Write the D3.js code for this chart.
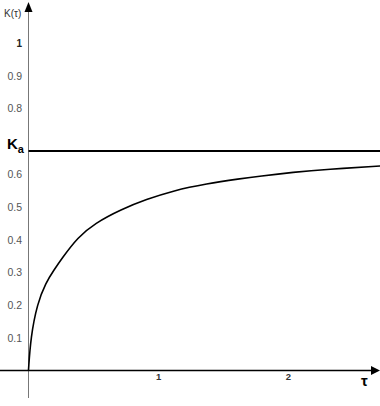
<!DOCTYPE html>
<html><head><meta charset="utf-8">
<script src="https://cdn.jsdelivr.net/npm/d3@7"></script>
<style>body{margin:0;background:#fff}svg{display:block}</style>
</head><body>
<script>
const tauValues = [0, 0.017, 0.068, 0.133, 0.197, 0.253, 0.381, 0.51, 0.715, 0.908, 1.116, 1.373, 1.63, 1.78, 2.04, 2.30, 2.72];
const kValues   = [0, 0.10, 0.203, 0.266, 0.305, 0.338, 0.405, 0.447, 0.490, 0.520, 0.547, 0.568, 0.583, 0.591, 0.603, 0.612, 0.622];
const kaValue = 0.668;
const yTicks = [0.1, 0.2, 0.3, 0.4, 0.5, 0.6, 0.8, 0.9, 1];
const yTickLabels = ["0.1","0.2","0.3","0.4","0.5","0.6","0.8","0.9","1"];
const xTicks = [1, 2];
const xTickLabels = ["1","2"];

const W = 380, H = 406;
const svg = d3.select("body").append("svg").attr("width", W).attr("height", H);
const x = d3.scaleLinear().domain([0, 2]).range([28.5, 288]);
const y = d3.scaleLinear().domain([0, 1]).range([370, 42]);

// y axis line with arrow
svg.append("line").attr("x1", 28.5).attr("x2", 28.5).attr("y1", 10).attr("y2", 398)
  .attr("stroke", "#777").attr("stroke-width", 1);
svg.append("path").attr("d", "M28.5,2 L24.5,12 L32.5,12 Z").attr("fill", "#000");

// x axis line with arrow
svg.append("line").attr("x1", 0).attr("x2", 372).attr("y1", 370.5).attr("y2", 370.5)
  .attr("stroke", "#000").attr("stroke-width", 1.3);
svg.append("path").attr("d", "M380,370.5 L371,366 L371,375 Z").attr("fill", "#000");

// y tick labels via axis
const yAxis = d3.axisLeft(y).tickValues(yTicks).tickSize(0).tickPadding(0)
  .tickFormat((d, i) => yTickLabels[i]);
const gy = svg.append("g").attr("transform", "translate(22,1)").call(yAxis);
gy.select(".domain").remove();
gy.selectAll("text").attr("font-family", "Liberation Sans, Arial, sans-serif")
  .attr("font-size", 10.5).attr("fill", "#555");
gy.selectAll("text").filter((d) => d === 1).attr("fill", "#222").attr("font-weight", "bold").attr("font-size", 10);

// x tick labels via axis
const xAxis = d3.axisBottom(x).tickValues(xTicks).tickSize(0).tickPadding(0)
  .tickFormat((d, i) => xTickLabels[i]);
const gx = svg.append("g").attr("transform", "translate(0,373)").call(xAxis);
gx.select(".domain").remove();
gx.selectAll("text").attr("font-family", "Liberation Sans, Arial, sans-serif")
  .attr("font-size", 9.5).attr("font-weight", "bold").attr("fill", "#333");

// axis titles
svg.append("text").attr("x", 4).attr("y", 17).attr("font-family", "Liberation Sans, Arial, sans-serif")
  .attr("font-size", 10).attr("fill", "#333").text("K(τ)");
svg.append("text").attr("x", 361).attr("y", 386).attr("font-family", "Liberation Sans, Arial, sans-serif")
  .attr("font-size", 15).attr("font-weight", "bold").attr("fill", "#000").text("τ");

// Ka line and label
svg.append("line").attr("x1", 28.5).attr("x2", W).attr("y1", y(kaValue)).attr("y2", y(kaValue))
  .attr("stroke", "#000").attr("stroke-width", 2);
const ka = svg.append("text").attr("x", 7).attr("y", 149).attr("font-family", "Liberation Sans, Arial, sans-serif")
  .attr("font-size", 15).attr("font-weight", "bold").attr("fill", "#000");
ka.append("tspan").text("K");
ka.append("tspan").attr("font-size", 11).attr("dy", 4).text("a");

// curve
const pts = tauValues.map((t, i) => [t, kValues[i]]);
const line = d3.line().x(d => x(d[0])).y(d => y(d[1])).curve(d3.curveBasis);
svg.append("path").datum(pts).attr("d", line).attr("fill", "none")
  .attr("stroke", "#000").attr("stroke-width", 1.6);
</script>
</body></html>
